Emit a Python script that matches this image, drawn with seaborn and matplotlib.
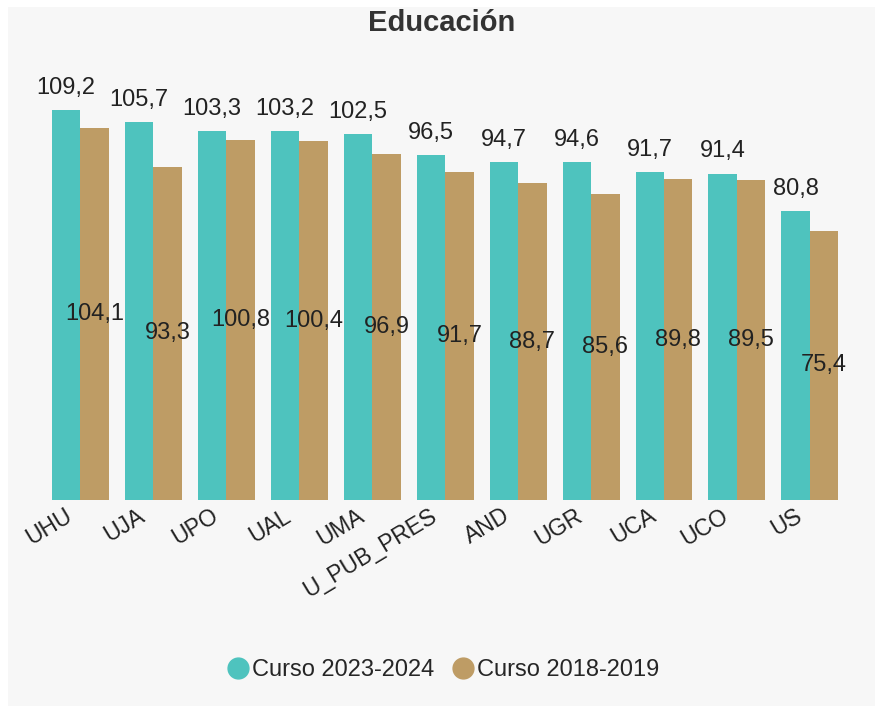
import pandas as pd
import matplotlib.pyplot as plt
import matplotlib.transforms as mtransforms
import seaborn as sns
from matplotlib.lines import Line2D
from matplotlib.patches import Rectangle

# datos
universidades = ["UHU", "UJA", "UPO", "UAL", "UMA", "U_PUB_PRES", "AND", "UGR", "UCA", "UCO", "US"]
curso_2023 = [109.2, 105.7, 103.3, 103.2, 102.5, 96.5, 94.7, 94.6, 91.7, 91.4, 80.8]
curso_2018 = [104.1, 93.3, 100.8, 100.4, 96.9, 91.7, 88.7, 85.6, 89.8, 89.5, 75.4]
series = ["Curso 2023-2024", "Curso 2018-2019"]
colores = ["#4EC3BE", "#BE9C65"]

df = pd.DataFrame({
    "uni": universidades * 2,
    "valor": curso_2023 + curso_2018,
    "curso": [series[0]] * len(universidades) + [series[1]] * len(universidades),
})

sns.set_style("white")
plt.rcParams["font.family"] = ["Liberation Sans", "DejaVu Sans"]

fig = plt.figure(figsize=(8.83, 7.14), dpi=100)
fig.patch.set_facecolor("white")
# panel gris de fondo
fig.patches.append(Rectangle((8 / 883, 8 / 714), 867 / 883, 699 / 714,
                             transform=fig.transFigure, facecolor="#F7F7F7",
                             edgecolor="none", zorder=-10))

ax = fig.add_axes([0.0498, 0.2997, 0.9087, 0.6003])
ax.set_facecolor("none")

sns.barplot(data=df, x="uni", y="valor", hue="curso", hue_order=series,
            palette=colores, width=0.78, saturation=1, linewidth=0, ax=ax, legend=False)

def fmt(vals):
    return [f"{v:.1f}".replace(".", ",") for v in vals]

ax.bar_label(ax.containers[0], labels=fmt(curso_2023), padding=8, fontsize=17, color="#222222")
ax.bar_label(ax.containers[1], labels=fmt(curso_2018), label_type="center", fontsize=17, color="#222222")

ax.set_ylim(0, 120)
ax.set_xlim(-0.5, len(universidades) - 0.5)
ax.set_yticks([])
ax.set_xlabel("")
ax.set_ylabel("")
for s in ax.spines.values():
    s.set_visible(False)
ax.tick_params(axis="x", length=0, pad=3)
desplaza = mtransforms.ScaledTranslation(-16 / 100, 0, fig.dpi_scale_trans)
for lbl in ax.get_xticklabels():
    lbl.set_rotation(31)
    lbl.set_ha("right")
    lbl.set_rotation_mode("anchor")
    lbl.set_fontsize(16.5)
    lbl.set_color("#222222")
    lbl.set_transform(lbl.get_transform() + desplaza)

fig.text(0.5, 1 - 23 / 714, "Educación", ha="center", va="center",
         fontsize=21, fontweight="bold", color="#333333")

handles = [Line2D([], [], marker="o", linestyle="", markersize=15,
                  markerfacecolor=c, markeredgecolor=c) for c in colores]
fig.legend(handles, series, loc="center", bbox_to_anchor=(0.5, 1 - 670 / 714),
           ncol=2, frameon=False, fontsize=17, handletextpad=0.0,
           columnspacing=0.6, handlelength=1.2)

fig.savefig("out.png", dpi=100, facecolor=fig.get_facecolor())
